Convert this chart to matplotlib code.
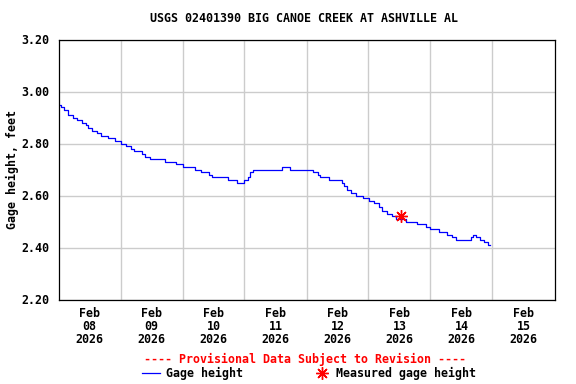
import matplotlib
matplotlib.use("Agg")
import matplotlib.pyplot as plt
from matplotlib.lines import Line2D

# ---- data (hours since Feb 08 2026 00:00, gage height in feet) ----
hours = [0, 0.8, 2.1, 3.6, 5.7, 7.2, 9.2, 10.5, 11.4, 13.0, 15.0, 16.5, 19.2, 21.7,
         24.3, 26.3, 27.9, 29.4, 32.4, 33.4, 35.6, 41.4, 45.3, 48.1, 53.0, 55.2,
         58.2, 59.5, 65.5, 69.2, 71.7, 73.3, 74.3, 75.2, 86.6, 89.8, 98.4, 100.4,
         101.4, 104.6, 109.8, 110.7, 111.8, 113.3, 115.0, 117.9, 120.1, 122.1,
         124.0, 125.3, 127.0, 129.2, 130.8, 134.7, 138.9, 142.1, 144.0, 147.2,
         150.5, 152.4, 153.7, 159.5, 160.5, 161.8, 163.1, 164.6, 166.2, 167.0]
gage = [2.95, 2.94, 2.93, 2.91, 2.90, 2.89, 2.88, 2.87, 2.86, 2.85, 2.84, 2.83, 2.82, 2.81,
        2.80, 2.79, 2.78, 2.77, 2.76, 2.75, 2.74, 2.73, 2.72, 2.71, 2.70, 2.69,
        2.68, 2.67, 2.66, 2.65, 2.66, 2.67, 2.69, 2.70, 2.71, 2.70, 2.69, 2.68,
        2.67, 2.66, 2.65, 2.635, 2.62, 2.61, 2.60, 2.59, 2.58, 2.57,
        2.555, 2.54, 2.53, 2.52, 2.51, 2.50, 2.49, 2.48, 2.47, 2.46,
        2.45, 2.44, 2.43, 2.44, 2.45, 2.44, 2.43, 2.42, 2.41, 2.41]
measured_hours = [132.4]
measured_gage = [2.52]

day_labels = ["Feb\n08\n2026", "Feb\n09\n2026", "Feb\n10\n2026", "Feb\n11\n2026",
              "Feb\n12\n2026", "Feb\n13\n2026", "Feb\n14\n2026", "Feb\n15\n2026"]
y_ticks = [2.20, 2.40, 2.60, 2.80, 3.00, 3.20]

title = "USGS 02401390 BIG CANOE CREEK AT ASHVILLE AL"
FONT = "DejaVu Sans Mono"
FS = 8.4

fig = plt.figure(figsize=(5.76, 3.84), dpi=100)
ax = fig.add_axes([58.5/576, 1-299.5/384, 496/576, 260/384])

ax.plot(hours, gage, drawstyle="steps-post", color="#0000FF", lw=0.9)
ax.plot(measured_hours, measured_gage, linestyle="none", marker=(8, 2, 0),
        markersize=9, color="#FF0000", markeredgewidth=1.0)

ndays = len(day_labels)
ax.set_xlim(0, 24*ndays)
ax.set_ylim(y_ticks[0], y_ticks[-1])
ax.set_xticks([24*i for i in range(1, ndays)])
ax.set_xticklabels([])
ax.set_xticks([24*i + 12 for i in range(ndays)], minor=True)
ax.set_xticklabels(day_labels, minor=True, fontfamily=FONT, fontweight="bold",
                   fontsize=FS, linespacing=0.98)
ax.set_yticks(y_ticks)
ax.set_yticklabels([f"{v:.2f}" for v in y_ticks], fontfamily=FONT,
                   fontweight="bold", fontsize=FS)
ax.tick_params(axis="both", which="both", length=0)
ax.tick_params(axis="y", pad=6.5)
ax.tick_params(axis="x", which="minor", pad=5.5)
ax.grid(True, which="major", color="#CCCCCC", lw=1.0)
ax.set_axisbelow(True)
for s in ax.spines.values():
    s.set_linewidth(0.9)
    s.set_color("black")

fig.text(12.5/576, 1-170/384, "Gage height, feet", rotation=90, ha="center", va="center",
         fontfamily=FONT, fontweight="bold", fontsize=FS)
fig.text(304/576, 1-19/384, title, ha="center", va="center",
         fontfamily=FONT, fontweight="bold", fontsize=FS)
fig.text(305.5/576, 1-359/384, "---- Provisional Data Subject to Revision ----",
         ha="center", va="center", color="#FF0000",
         fontfamily=FONT, fontweight="bold", fontsize=FS)

ly = 1-373/384
fig.add_artist(Line2D([142/576, 160/576], [ly, ly], color="#0000FF", lw=0.9,
                      transform=fig.transFigure))
fig.text(166/576, ly, "Gage height", ha="left", va="center",
         fontfamily=FONT, fontweight="bold", fontsize=FS)
fig.add_artist(Line2D([322/576], [ly], marker=(8, 2, 0), markersize=9, color="#FF0000",
                      markeredgewidth=1.0, linestyle="none", transform=fig.transFigure))
fig.text(336.5/576, ly, "Measured gage height", ha="left", va="center",
         fontfamily=FONT, fontweight="bold", fontsize=FS)

fig.savefig("out.png", dpi=100)
